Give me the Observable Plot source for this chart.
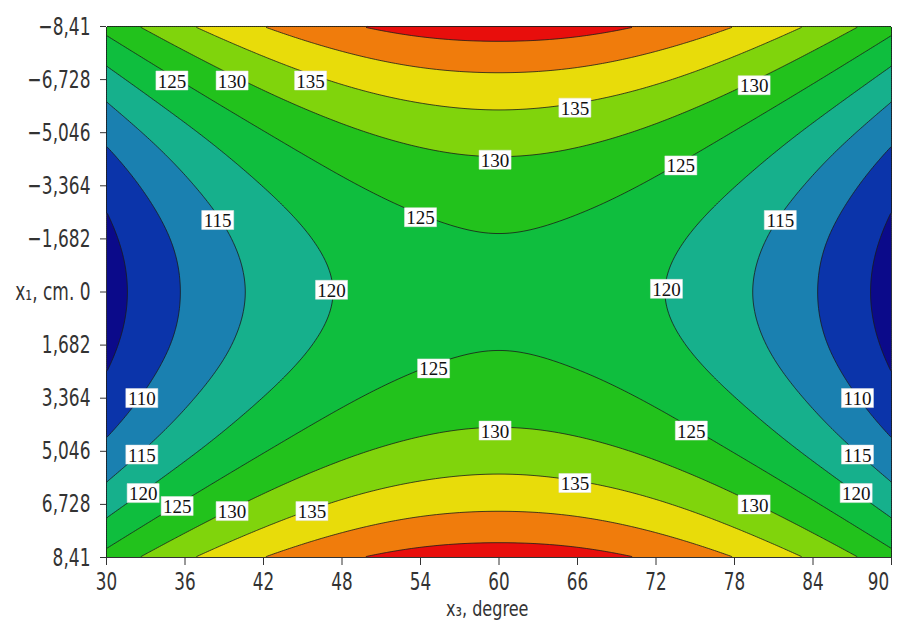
<!DOCTYPE html>
<html><head><meta charset="utf-8">
<script src="https://cdn.jsdelivr.net/npm/d3@7"></script>
<script src="https://cdn.jsdelivr.net/npm/@observablehq/plot@0.6"></script>
<style>body{margin:0;background:#fff}</style>
</head><body><div id="chart"></div>
<script>
// Axis tick values
const x3Ticks = [30, 36, 42, 48, 54, 60, 66, 72, 78, 84, 90];
const x1Ticks = [-8.41, -6.728, -5.046, -3.364, -1.682, 0, 1.682, 3.364, 5.046, 6.728, 8.41];

// Response values at the tick grid
// rows: x1 = -8.41 ... 8.41 ; columns: x3 = 30 ... 90
const responseGrid = [
  [126.6, 134.2, 140.0, 144.2, 146.8, 147.6, 146.8, 144.2, 140.0, 134.2, 126.6],
  [118.0, 125.6, 131.5, 135.7, 138.2, 139.0, 138.2, 135.7, 131.5, 125.6, 118.0],
  [111.4, 118.9, 124.8, 129.0, 131.5, 132.4, 131.5, 129.0, 124.8, 118.9, 111.4],
  [106.6, 114.2, 120.1, 124.3, 126.8, 127.6, 126.8, 124.3, 120.1, 114.2, 106.6],
  [103.8, 111.3, 117.2, 121.4, 123.9, 124.8, 123.9, 121.4, 117.2, 111.3, 103.8],
  [102.8, 110.4, 116.2, 120.4, 123.0, 123.8, 123.0, 120.4, 116.2, 110.4, 102.8],
  [103.8, 111.3, 117.2, 121.4, 123.9, 124.8, 123.9, 121.4, 117.2, 111.3, 103.8],
  [106.6, 114.2, 120.1, 124.3, 126.8, 127.6, 126.8, 124.3, 120.1, 114.2, 106.6],
  [111.4, 118.9, 124.8, 129.0, 131.5, 132.4, 131.5, 129.0, 124.8, 118.9, 111.4],
  [118.0, 125.6, 131.5, 135.7, 138.2, 139.0, 138.2, 135.7, 131.5, 125.6, 118.0],
  [126.6, 134.2, 140.0, 144.2, 146.8, 147.6, 146.8, 144.2, 140.0, 134.2, 126.6]
];

// Contour levels and band colours
const levels = [100, 105, 110, 115, 120, 125, 130, 135, 140, 145];
const bandColors = ["#0b0a8a", "#0b34aa", "#1a80b0", "#16b08c", "#0fbe3e", "#22c21c", "#80d40c", "#e8dc0a", "#f07c0c", "#e80e0c"];

// Contour labels
const labelX3 = [35.0, 39.6, 45.6, 65.8, 79.5, 59.7, 73.9, 38.5, 54.0, 81.5, 47.2, 72.8, 55.0, 32.7, 87.4, 59.7, 74.7, 32.7, 87.4, 65.8, 32.8, 35.4, 39.6, 45.7, 79.5, 87.3];
const labelX1 = [-6.70, -6.70, -6.70, -5.84, -6.55, -4.19, -4.01, -2.28, -2.37, -2.28, -0.07, -0.10, 2.42, 3.36, 3.36, 4.39, 4.39, 5.15, 5.15, 6.05, 6.37, 6.78, 6.94, 6.94, 6.73, 6.37];
const labelText = ["125", "130", "135", "135", "130", "130", "125", "115", "125", "115", "120", "120", "125", "110", "110", "130", "125", "115", "115", "135", "120", "125", "130", "135", "130", "120"];

const xLabel = "x₃, degree";
const yLabel = "x₁, cm.";

const points = [];
responseGrid.forEach((row, i) => row.forEach((z, j) => points.push({x3: x3Ticks[j], x1: x1Ticks[i], z})));
const labels = labelText.map((t, i) => ({x3: labelX3[i], x1: labelX1[i], t}));

// Smooth (cubic convolution) interpolation of the sampled grid onto Plot's raster
function cubicInterpolate(index, width, height, X, Y, V) {
  const xs = Array.from(new Set(Array.from(index, i => X[i]))).sort((a, b) => a - b);
  const ys = Array.from(new Set(Array.from(index, i => Y[i]))).sort((a, b) => a - b);
  const nx = xs.length, ny = ys.length;
  const M = Array.from({length: ny}, () => new Array(nx).fill(0));
  for (const i of index) M[ys.indexOf(Y[i])][xs.indexOf(X[i])] = V[i];
  const pad = a => {
    const n = a.length;
    return [3 * a[0] - 3 * a[1] + a[2], ...a, 3 * a[n - 1] - 3 * a[n - 2] + a[n - 3]];
  };
  const R = M.map(pad);
  const cols = R[0].map((_, c) => pad(R.map(r => r[c])));
  const P = cols[0].map((_, r) => cols.map(col => col[r])); // (ny+2) x (nx+2)
  const cr = (p0, p1, p2, p3, t) =>
    0.5 * (2 * p1 + (-p0 + p2) * t + (2 * p0 - 5 * p1 + 4 * p2 - p3) * t * t + (-p0 + 3 * p1 - 3 * p2 + p3) * t * t * t);
  const W = new Float64Array(width * height);
  const frac = (c, arr, n) => {
    let f = (c - arr[0]) / (arr[n - 1] - arr[0]) * (n - 1);
    f = Math.max(0, Math.min(n - 1, f));
    const k = Math.min(Math.floor(f), n - 2);
    return [k, f - k];
  };
  for (let py = 0; py < height; ++py) {
    const [j, ty] = frac(py + 0.5, ys, ny);
    for (let px = 0; px < width; ++px) {
      const [i, tx] = frac(px + 0.5, xs, nx);
      const r = [0, 1, 2, 3].map(k => {
        const row = P[j + k];
        return cr(row[i], row[i + 1], row[i + 2], row[i + 3], tx);
      });
      W[py * width + px] = cr(r[0], r[1], r[2], r[3], ty);
    }
  }
  return W;
}

const fmtY = d => d === 0 ? `${yLabel} 0` : String(d).replace(".", ",").replace("-", "−");
const boxSymbol = {draw(ctx) { ctx.rect(-16, -9.5, 32, 19); }};
const axisFont = "'DejaVu Sans', sans-serif";

const chart = Plot.plot({
  width: 897,
  height: 624,
  marginLeft: 106,
  marginRight: 6,
  marginTop: 26,
  marginBottom: 67,
  style: {fontFamily: axisFont, background: "#fff"},
  x: {domain: [30, 90]},
  y: {domain: [-8.41, 8.41], reverse: true},
  color: {type: "threshold", domain: levels.slice(1), range: bandColors},
  marks: [
    Plot.contour(points, {
      x: "x3", y: "x1", fill: "z",
      thresholds: levels,
      interpolate: cubicInterpolate,
      stroke: "#1b1b1b",
      strokeWidth: 0.8
    }),
    Plot.dot(labels, {x: "x3", y: "x1", symbol: boxSymbol, fill: "#fff", stroke: "#e4e4e4", strokeWidth: 0.5}),
    Plot.text(labels, {x: "x3", y: "x1", text: "t", fontFamily: "'Liberation Serif', serif", fontSize: 19, fill: "#111", dy: 1}),
    Plot.axisX({ticks: x3Ticks, tickSize: 8, tickPadding: 7, fontSize: 24, label: null, tickFormat: d => String(d), color: "#333"}),
    Plot.axisY({ticks: x1Ticks, tickSize: 6, tickPadding: 10, fontSize: 25, label: null, tickFormat: fmtY, color: "#333"}),
    Plot.ruleY([8.41], {stroke: "#333", strokeWidth: 1.2}),
    Plot.text([xLabel], {x: 59.1, frameAnchor: "bottom", dy: 58, fontSize: 22, fill: "#333", fontFamily: axisFont, className: "axis-title"})
  ]
});
document.getElementById("chart").appendChild(chart);

// condense the axis texts to the narrow drawing-style lettering of the original
const condense = (sel, k) => chart.querySelectorAll(sel).forEach(t => {
  const L = t.getComputedTextLength();
  t.setAttribute("textLength", (L * k).toFixed(1));
  t.setAttribute("lengthAdjust", "spacingAndGlyphs");
});
condense('g[aria-label="x-axis tick label"] text', 0.7);
condense('g[aria-label="y-axis tick label"] text', 0.68);
condense('.axis-title text', 0.73);
// keep the last x tick label inside the picture, as in the original
const xt = chart.querySelectorAll('g[aria-label="x-axis tick label"] text');
if (xt.length) {
  const last = xt[xt.length - 1];
  const tr = last.getAttribute("transform");
  const m = tr && tr.match(/translate\(\s*([-\d.e]+)[ ,]+([-\d.e]+)\s*\)/);
  if (m) last.setAttribute("transform", `translate(${+m[1] - 13},${m[2]})`);
  else last.setAttribute("x", String(+(last.getAttribute("x") || 0) - 13));
}
</script>
</body></html>
